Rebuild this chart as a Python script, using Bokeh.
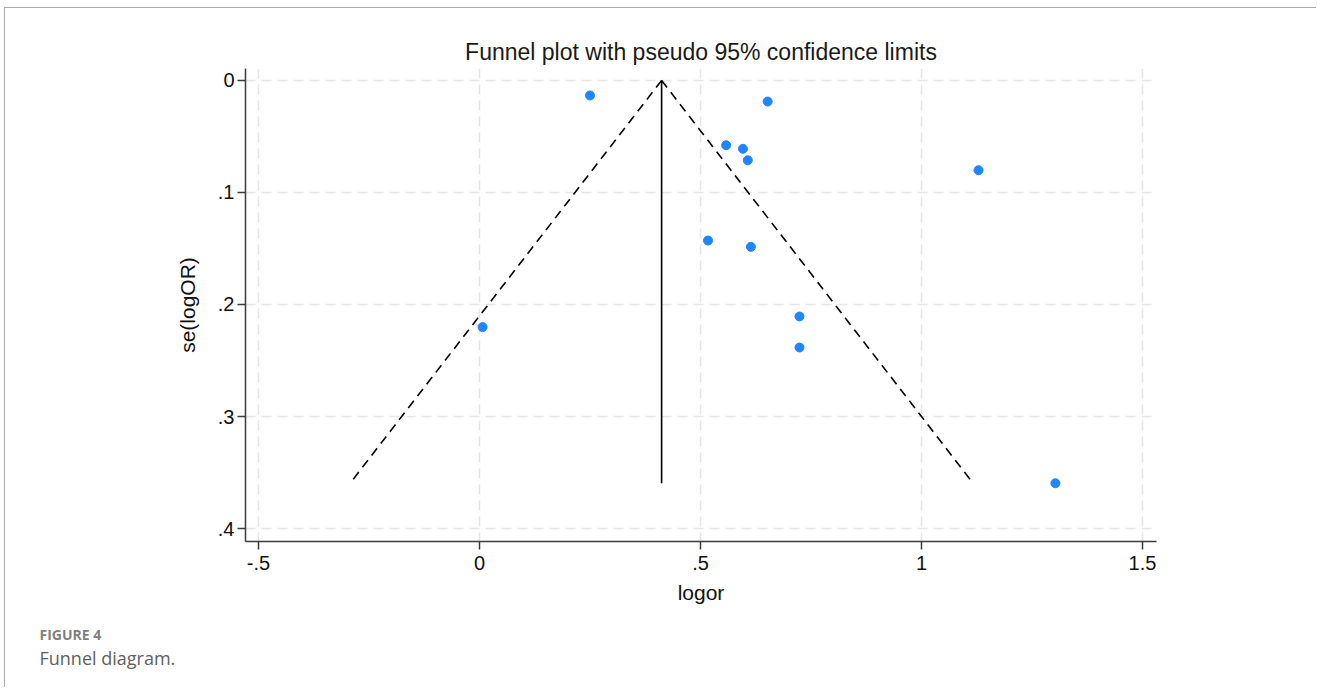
from bokeh.plotting import figure
from bokeh.models import Range1d, FixedTicker, Title, ColumnDataSource
from bokeh.embed import file_html
from bokeh.resources import INLINE

# ---- data ----
logor = [0.250, 0.652, 0.558, 0.596, 0.607, 1.129, 0.517, 0.614, 0.007, 0.724, 0.724, 1.303]
se_logor = [0.0134, 0.0188, 0.0578, 0.0610, 0.0712, 0.0801, 0.1429, 0.1485, 0.2202, 0.2107, 0.2384, 0.3596]
pooled_logor = 0.412          # fixed-effect pooled estimate (apex of funnel)
z_95 = 1.96

x_ticks = [-0.5, 0.0, 0.5, 1.0, 1.5]
x_tick_labels = ["-.5", "0", ".5", "1", "1.5"]
y_ticks = [0.0, 0.1, 0.2, 0.3, 0.4]
y_tick_labels = ["0", ".1", ".2", ".3", ".4"]

title_text = "Funnel plot with pseudo 95% confidence limits"
x_title = "logor"
y_title = "se(logOR)"
caption_head = "FIGURE 4"
caption_text = "Funnel diagram."

# ---- funnel limits ----
se_max = max(se_logor)
left_x = [pooled_logor, pooled_logor - z_95 * se_max]
right_x = [pooled_logor, pooled_logor + z_95 * se_max]
limit_y = [0.0, se_max]

FONT = "Liberation Sans"

p = figure(
    width=1312, height=680,
    output_backend="svg", toolbar_location=None,
    x_range=Range1d(-0.5294, 1.5317),
    y_range=Range1d(0.4116, -0.0107),
    min_border_left=240, min_border_right=161,
    min_border_top=60, min_border_bottom=147,
    title=title_text,
    styles={"border-left": "1px solid #a9a9a9", "border-top": "1px solid #a9a9a9",
            "margin-left": "4px", "margin-top": "7px"},
)
p.outline_line_color = None
p.background_fill_color = "white"
p.border_fill_color = "white"

p.title.align = "center"
p.title.text_font = FONT
p.title.text_font_size = "23px"
p.title.text_font_style = "normal"
p.title.text_color = "#1a1a1a"
p.title.standoff = 7

for ax in (p.xaxis[0], p.yaxis[0]):
    ax.axis_line_color = "#3c3c3c"
    ax.axis_line_width = 1.5
    ax.major_tick_line_color = "#3c3c3c"
    ax.major_tick_line_width = 1.5
    ax.major_tick_out = 8
    ax.major_tick_in = 0
    ax.minor_tick_line_color = None
    ax.major_label_text_font = FONT
    ax.major_label_text_font_size = "20px"
    ax.major_label_text_color = "#111111"
    ax.axis_label_text_font = FONT
    ax.axis_label_text_font_size = "21px"
    ax.axis_label_text_font_style = "normal"
    ax.axis_label_text_color = "#111111"

p.xaxis.ticker = FixedTicker(ticks=x_ticks)
p.xaxis.major_label_overrides = dict(zip(x_ticks, x_tick_labels))
p.xaxis.major_label_standoff = 6
p.xaxis.axis_label = x_title
p.xaxis.axis_label_standoff = 8

p.yaxis.ticker = FixedTicker(ticks=y_ticks)
p.yaxis.major_label_overrides = dict(zip(y_ticks, y_tick_labels))
p.yaxis.major_label_standoff = 3
p.yaxis.axis_label = y_title
p.yaxis.axis_label_standoff = 16

for g, t in ((p.xgrid, x_ticks), (p.ygrid, y_ticks)):
    g.ticker = FixedTicker(ticks=t)
    g.grid_line_color = "#e6e6e6"
    g.grid_line_width = 1.5
    g.grid_line_dash = "10 6"

# funnel
p.line(left_x, limit_y, line_color="black", line_width=1.6, line_dash="9 6")
p.line(right_x, limit_y, line_color="black", line_width=1.6, line_dash="9 6")
p.line([pooled_logor, pooled_logor], limit_y, line_color="black", line_width=1.6)

src = ColumnDataSource(dict(x=logor, y=se_logor))
p.scatter("x", "y", source=src, size=9, fill_color="#1f86ff", line_color="#1f86ff")

# captions below the x axis, shifted left to the figure's text margin
p.add_layout(Title(text=caption_head, align="left", offset=-206, standoff=33,
                   text_font="Open Sans", text_font_size="14px", text_font_style="bold",
                   text_color="#808080"), "below")
p.add_layout(Title(text=caption_text, align="left", offset=-206, standoff=-29,
                   vertical_align="top",
                   text_font="Open Sans", text_font_size="18px", text_font_style="normal",
                   text_color="#606060"), "below")

open("out.html", "w").write(file_html(p, INLINE))
